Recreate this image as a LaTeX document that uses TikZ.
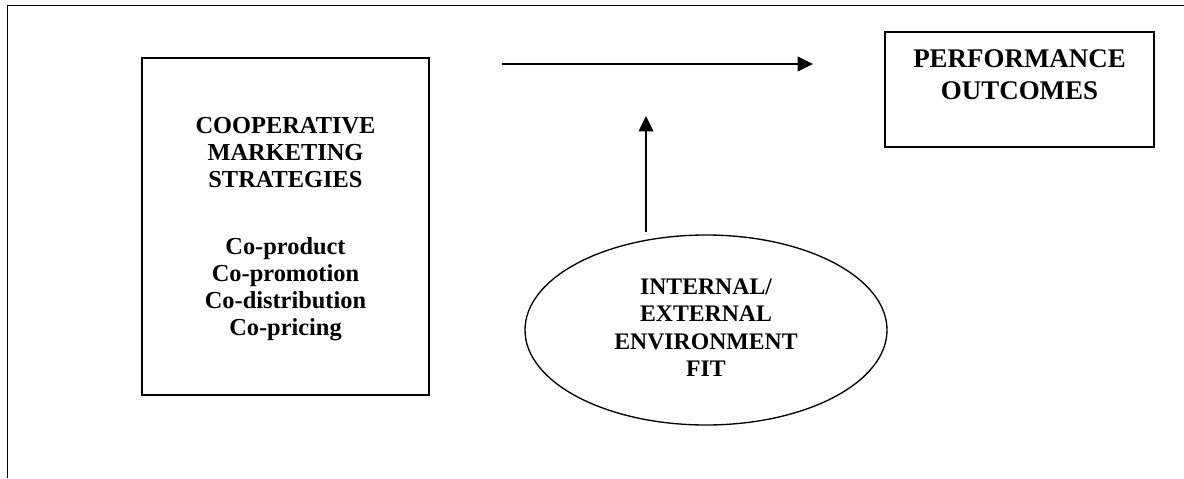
\documentclass[tikz,border=0pt]{standalone}
\usepackage{fontspec}
\setmainfont{Liberation Serif}
\usetikzlibrary{shapes.geometric,arrows.meta}
\tikzset{
  frameline/.style={line width=1.1pt},
  boxshape/.style={draw, line width=1.3pt, rectangle, inner sep=0pt},
  ovalshape/.style={draw, line width=1pt, ellipse, inner sep=0pt},
  txt/.style={align=center, inner sep=0pt, font=\bfseries},
  arr/.style={line width=1.1pt, -{Triangle[length=11.5pt,width=11pt]}}
}
\begin{document}
\begin{tikzpicture}[x=0.75pt,y=-0.75pt]
\useasboundingbox (0,0) rectangle (1184,478);
% outer frame
\coordinate (fbl) at (7.5,478);
\coordinate (ftl) at (7.5,5.5);
\coordinate (ftr) at (1184,5.5);
\draw[frameline] (fbl) -- (ftl) -- (ftr);
% left box
\node[boxshape, minimum width=287*0.75pt, minimum height=337*0.75pt] (coop) at (285.5,226.5) {};
\node[txt, font=\fontsize{18.3}{20.4}\selectfont\bfseries] (cooptext) at (285.5,229)
  {COOPERATIVE\\MARKETING\\STRATEGIES\\[29.6pt]Co-product\\Co-promotion\\Co-distribution\\Co-pricing};
% right box
\node[boxshape, minimum width=269*0.75pt, minimum height=115*0.75pt] (perf) at (1019.5,89.5) {};
\node[txt, font=\fontsize{20.2}{23.8}\selectfont\bfseries] (perftext) at (1019.5,75) {PERFORMANCE\\OUTCOMES};
% ellipse
\node[ovalshape, minimum width=362*0.75pt, minimum height=190*0.75pt] (env) at (706,330) {};
\node[txt, font=\fontsize{17.8}{20.6}\selectfont\bfseries] (envtext) at (706,327.5) {INTERNAL/\\EXTERNAL\\ENVIRONMENT\\FIT};
% arrows
\coordinate (h1) at (502,64);
\coordinate (h2) at (813,64);
\coordinate (v1) at (646,232);
\coordinate (v2) at (646,116);
\draw[arr] (h1) -- (h2);
\draw[arr] (v1) -- (v2);
\end{tikzpicture}
\end{document}
